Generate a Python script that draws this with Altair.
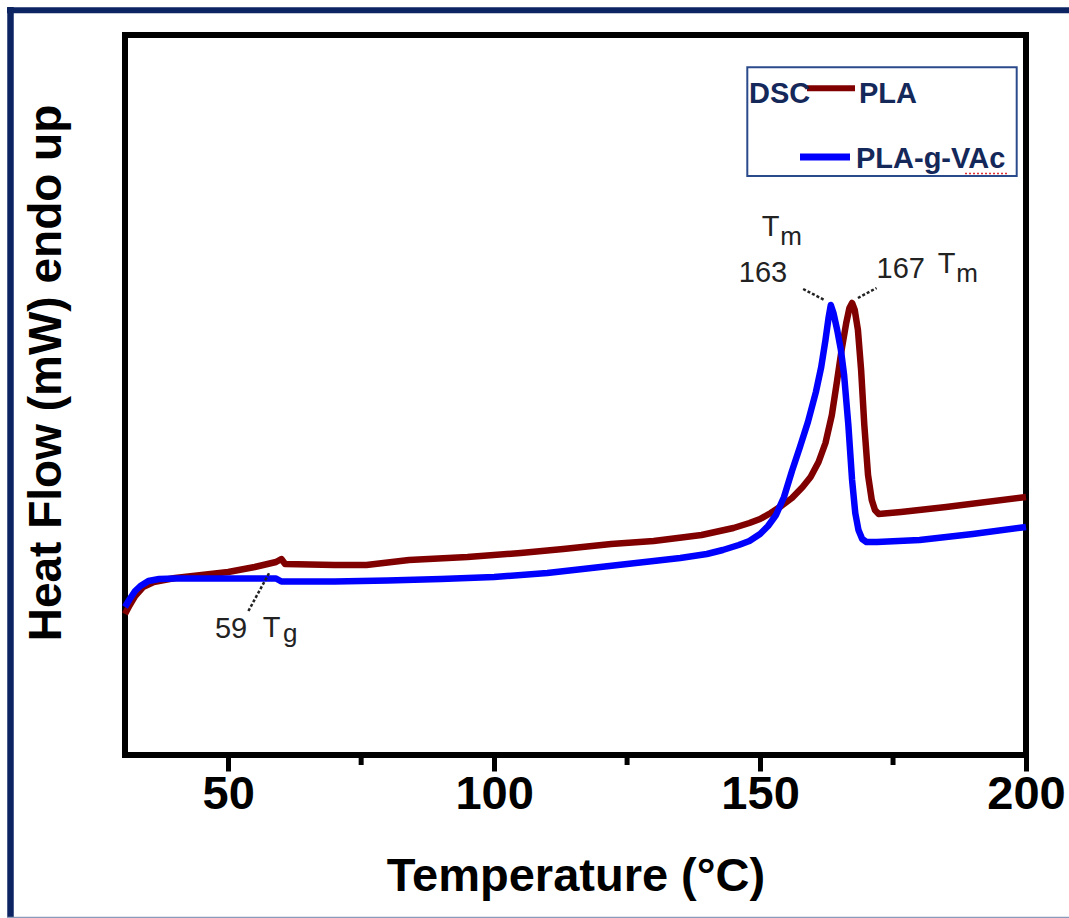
import altair as alt
import pandas as pd

# ---- data (heat flow in arbitrary mW units) ----
temp_pla = [30.6, 31.5, 32.5, 34, 36, 40, 45, 50, 55, 59, 60, 60.7, 70, 76, 84, 95, 105, 113, 122,
            130, 139, 145, 148, 150, 152, 154, 156, 158, 159.5, 161, 162.3, 163.5, 164.5, 165.3,
            166.2, 166.8, 167.3, 167.8, 168.4, 169, 169.6, 170.3, 171, 171.6, 172.3, 176.5, 185, 200]
hf_pla = [1.41, 1.50, 1.59, 1.68, 1.73, 1.77, 1.80, 1.83, 1.88, 1.93, 1.96, 1.91, 1.90, 1.90, 1.95,
          1.98, 2.02, 2.06, 2.11, 2.14, 2.20, 2.27, 2.32, 2.36, 2.42, 2.49, 2.57, 2.68, 2.78, 2.93,
          3.12, 3.40, 3.75, 4.04, 4.32, 4.47, 4.52, 4.45, 4.25, 3.85, 3.30, 2.80, 2.55, 2.45, 2.41,
          2.43, 2.48, 2.58]

temp_vac = [30.6, 31.5, 32.5, 33.5, 35, 37, 40, 50, 59, 60, 70, 80, 90, 100, 110, 120, 130, 135,
            140, 143, 146, 148, 150, 151.5, 153, 154.5, 156, 157.5, 159, 160.5, 161.5, 162.3, 162.9,
            163.3, 163.8, 164.5, 165.2, 165.8, 166.6, 167.3, 167.9, 168.5, 169.2, 170, 172, 180,
            190, 200]
hf_vac = [1.48, 1.56, 1.64, 1.69, 1.74, 1.76, 1.765, 1.765, 1.765, 1.735, 1.735, 1.745, 1.76, 1.78,
          1.82, 1.88, 1.94, 1.97, 2.01, 2.05, 2.10, 2.14, 2.21, 2.29, 2.40, 2.58, 2.84, 3.08, 3.33,
          3.63, 3.88, 4.15, 4.38, 4.50, 4.42, 4.25, 4.05, 3.80, 3.30, 2.75, 2.42, 2.25, 2.16, 2.13,
          2.13, 2.15, 2.21, 2.28]

x_ticks = [50, 100, 150, 200]
minor_ticks = [75, 125, 175]

# annotations (text, temperature, heat flow, font size)
ann_text = ["59", "T", "g", "T", "m", "163", "167", "T", "m"]
ann_t = [47.5, 56.5, 60.3, 150.3, 153.8, 146.0, 171.9, 183.4, 186.9]
ann_hf = [1.17, 1.18, 1.13, 5.19, 5.10, 4.73, 4.77, 4.82, 4.73]
ann_size = [29, 29, 26, 29, 26, 29, 29, 29, 26]

# leader lines (start/end temperature and heat flow)
lead_t1 = [53.8, 158.1, 168.4]
lead_hf1 = [1.44, 4.66, 4.57]
lead_t2 = [57.7, 162.1, 171.9]
lead_hf2 = [1.82, 4.55, 4.67]

W, H = 901, 720
FONT = "Liberation Sans"
NAVY = "#0c2461"

x_scale = alt.Scale(domain=[30.6, 200], nice=False, zero=False)
y_scale = alt.Scale(domain=[0, 7.2], nice=False, zero=False)

pla = pd.DataFrame({"T": temp_pla, "hf": hf_pla})
vac = pd.DataFrame({"T": temp_vac, "hf": hf_vac})
one = pd.DataFrame({"a": [0]})

x_axis = alt.Axis(values=x_ticks, domain=False, grid=False, tickColor="black", tickWidth=5,
                  tickSize=16, labelFont=FONT, labelFontWeight="bold", labelFontSize=47,
                  labelColor="black", labelPadding=0, labelFlush=False, labelOverlap=False,
                  title="Temperature (°C)", titleFont=FONT, titleFontWeight="bold",
                  titleFontSize=47, titleColor="black", titlePadding=36)

red_line = alt.Chart(pla).mark_line(color="#800000", strokeWidth=6.5, strokeJoin="round").encode(
    x=alt.X("T:Q", scale=x_scale, axis=x_axis),
    y=alt.Y("hf:Q", scale=y_scale, axis=None),
)
blue_line = alt.Chart(vac).mark_line(color="#0000ff", strokeWidth=6.5, strokeJoin="round").encode(
    x=alt.X("T:Q", scale=x_scale),
    y=alt.Y("hf:Q", scale=y_scale),
)

minor = alt.Chart(pd.DataFrame({"T": minor_ticks})).mark_rule(color="black", strokeWidth=5).encode(
    x=alt.X("T:Q", scale=x_scale), y=alt.value(H), y2=alt.value(H + 10)
)

ann = alt.Chart(pd.DataFrame({"t": ann_text, "T": ann_t, "hf": ann_hf, "s": ann_size})).mark_text(
    align="left", baseline="alphabetic", font=FONT, color="#222222"
).encode(
    x=alt.X("T:Q", scale=x_scale), y=alt.Y("hf:Q", scale=y_scale),
    text="t:N", size=alt.Size("s:Q", scale=None),
)

leads = alt.Chart(pd.DataFrame({"T": lead_t1, "hf": lead_hf1, "T2": lead_t2, "hf2": lead_hf2})).mark_rule(
    color="#222222", strokeWidth=2.5, strokeDash=[3, 2]
).encode(
    x=alt.X("T:Q", scale=x_scale), y=alt.Y("hf:Q", scale=y_scale), x2="T2:Q", y2="hf2:Q"
)

y_title = alt.Chart(one).mark_text(
    text="Heat Flow (mW) endo up", angle=270, align="center", baseline="alphabetic",
    font=FONT, fontWeight="bold", fontSize=46, color="black"
).encode(x=alt.value(-64), y=alt.value(338))

# legend drawn by hand
leg_box = alt.Chart(one).mark_rect(fill="white", stroke="#2b4a8c", strokeWidth=2).encode(
    x=alt.value(622.3), x2=alt.value(891.7), y=alt.value(32.3), y2=alt.value(141)
)
leg_red = alt.Chart(one).mark_rule(color="#800000", strokeWidth=6).encode(
    x=alt.value(682), x2=alt.value(730), y=alt.value(53.3)
)
leg_blue = alt.Chart(one).mark_rule(color="#0000ff", strokeWidth=7).encode(
    x=alt.value(675), x2=alt.value(725), y=alt.value(122)
)
LCOL = "#14285a"
leg_t1 = alt.Chart(one).mark_text(text="DSC", align="left", baseline="alphabetic", font=FONT,
                                  fontWeight="bold", fontSize=29, color=LCOL).encode(
    x=alt.value(624), y=alt.value(68))
leg_t2 = alt.Chart(one).mark_text(text="PLA", align="left", baseline="alphabetic", font=FONT,
                                  fontWeight="bold", fontSize=29, color=LCOL).encode(
    x=alt.value(734), y=alt.value(68))
leg_t3 = alt.Chart(one).mark_text(text="PLA-g-VAc", align="left", baseline="alphabetic", font=FONT,
                                  fontWeight="bold", fontSize=29, color=LCOL).encode(
    x=alt.value(731), y=alt.value(133))
squiggle = alt.Chart(one).mark_rule(color="#e03030", strokeWidth=1.5, strokeDash=[2, 2]).encode(
    x=alt.value(840), x2=alt.value(884), y=alt.value(138.5)
)

# outer page frame
left_bar = alt.Chart(one).mark_rule(color=NAVY, strokeWidth=6.5).encode(
    x=alt.value(-114.5), y=alt.value(-28), y2=alt.value(883)
)
top_bar = alt.Chart(one).mark_rule(color=NAVY, strokeWidth=6).encode(
    x=alt.value(-118), x2=alt.value(944), y=alt.value(-24.7)
)
bottom_line = alt.Chart(one).mark_rule(color="#8a9ab8", strokeWidth=1.5).encode(
    x=alt.value(-118), x2=alt.value(944), y=alt.value(882.5)
)

chart = alt.layer(
    red_line, blue_line, minor, leads, ann, y_title,
    leg_box, leg_red, leg_blue, leg_t1, leg_t2, leg_t3, squiggle,
    left_bar, top_bar, bottom_line,
).properties(
    width=W, height=H,
    autosize=alt.AutoSizeParams(type="none"),
    padding={"left": 125, "top": 35, "right": 43, "bottom": 163},
    background="white",
).configure_view(stroke="black", strokeWidth=6)

chart.save("out.html", embed_options={"renderer": "svg", "actions": False})
